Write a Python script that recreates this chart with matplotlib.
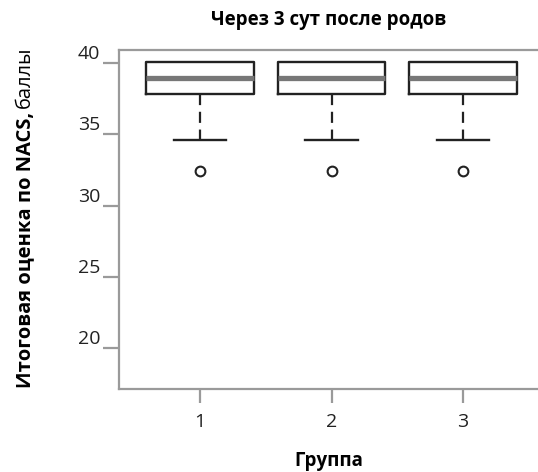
import matplotlib
matplotlib.use('Agg')
import matplotlib.pyplot as plt

plt.rcParams['font.family'] = ['Open Sans', 'DejaVu Sans']

# Box statistics per group
groups = ['1', '2', '3']
q1 = [37.85, 37.85, 37.85]
median = [38.95, 38.95, 38.95]
q3 = [40.1, 40.1, 40.1]
whisker_low = [34.6, 34.6, 34.6]
whisker_high = [40.1, 40.1, 40.1]
outliers = [[32.4], [32.4], [32.4]]

stats = []
for i in range(len(groups)):
    stats.append({'label': groups[i], 'q1': q1[i], 'med': median[i], 'q3': q3[i],
                  'whislo': whisker_low[i], 'whishi': whisker_high[i],
                  'fliers': outliers[i]})

fig = plt.figure(figsize=(5.38, 4.72), dpi=100)
ax = fig.add_axes([0.2212, 0.1758, 0.7788, 0.7182])

grey = '#9a9a9a'
parts = ax.bxp(stats, positions=[1, 2, 3], widths=0.82, capwidths=0.4,
               boxprops=dict(color='#222222', linewidth=1.7),
               medianprops=dict(color='#777777', linewidth=3.8, solid_capstyle='butt'),
               whiskerprops=dict(color='#222222', linewidth=1.6, linestyle=(0, (5, 3))),
               capprops=dict(color='#222222', linewidth=1.7),
               flierprops=dict(marker='o', markersize=7, markerfacecolor='none',
                               markeredgecolor='#222222', markeredgewidth=1.5))
# no upper whisker in the original
for cap in parts['caps'][1::2]:
    cap.set_visible(False)
for wh in parts['whiskers'][1::2]:
    wh.set_visible(False)

ax.set_xlim(0.384, 3.57)
ax.set_ylim(17.1, 40.94)
ax.set_yticks([20, 25, 30, 35, 40])
ax.set_xticks([1, 2, 3])
ax.set_xticklabels(groups)

for side in ['left', 'bottom', 'top']:
    ax.spines[side].set_color(grey)
    ax.spines[side].set_linewidth(1.6)
ax.spines['right'].set_visible(False)

ax.tick_params(axis='y', length=11.5, width=1.6, color=grey, labelsize=14,
               labelcolor='#222222', pad=2)
ax.tick_params(axis='x', length=10, width=1.6, color=grey, labelsize=14,
               labelcolor='#222222', pad=7)
for lab in ax.get_yticklabels():
    lab.set_verticalalignment('bottom')

ax.set_title('Через 3 сут после родов', fontsize=13.5, fontweight='bold', pad=18)
ax.set_xlabel('Группа', fontsize=13.5, fontweight='bold', labelpad=15)

# y label: bold part + regular part
t1 = fig.text(25 / 538, 1 - 388 / 472, 'Итоговая оценка по NACS,', rotation=90,
              fontsize=14.5, fontweight='bold', ha='center', va='bottom')
fig.canvas.draw()
bb = t1.get_window_extent(fig.canvas.get_renderer())
fig.text(25 / 538, (bb.y1 + 4) / 472, 'баллы', rotation=90,
         fontsize=14.5, ha='center', va='bottom')

fig.savefig('out.png', dpi=100)
